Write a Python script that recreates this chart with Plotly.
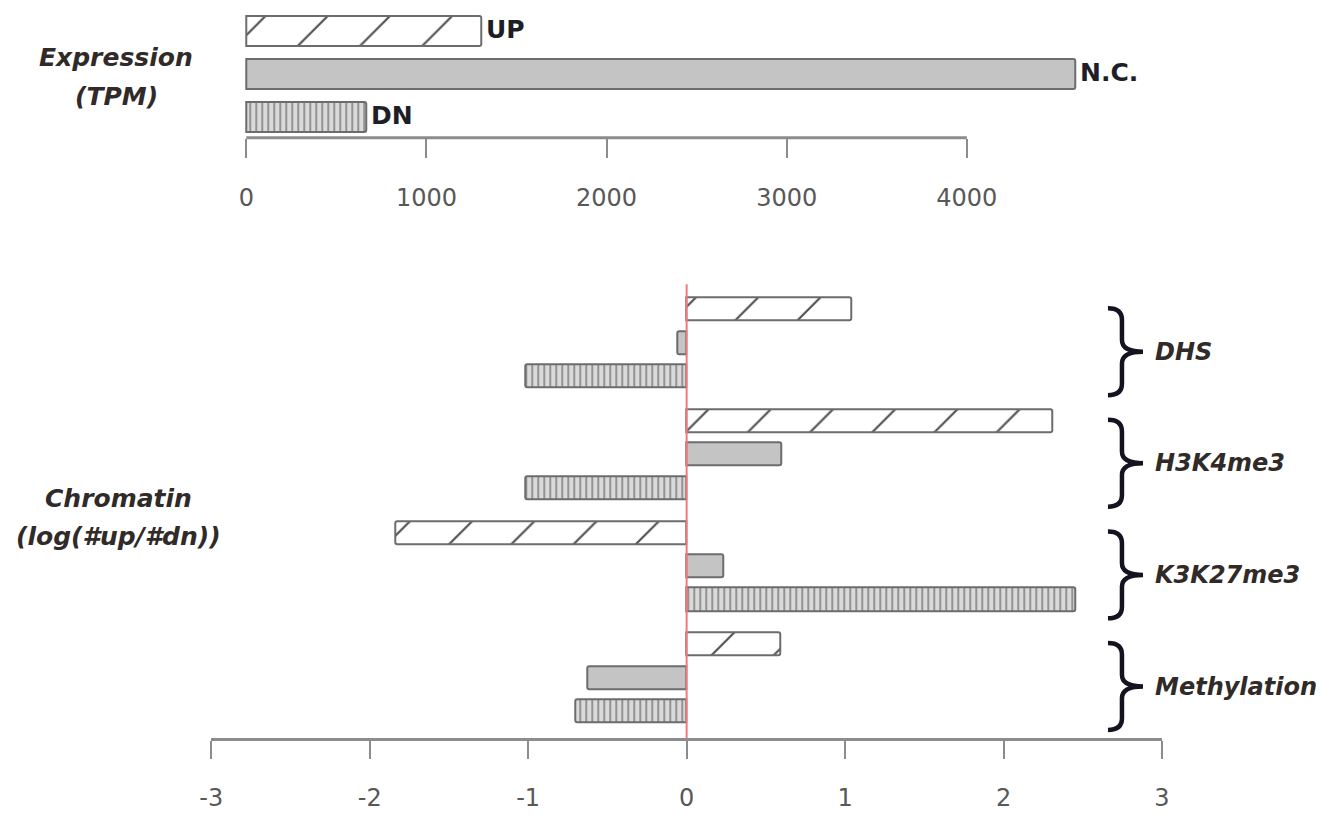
import plotly.graph_objects as go

# ---------------- data ----------------
expr_labels = ["UP", "N.C.", "DN"]
expr_values = [1305, 4600, 667]
expr_ticks = [0, 1000, 2000, 3000, 4000]

chrom_groups = ["DHS", "H3K4me3", "K3K27me3", "Methylation"]
chrom_up = [1.04, 2.31, -1.84, 0.59]
chrom_nc = [-0.06, 0.60, 0.23, -0.63]
chrom_dn = [-1.02, -1.02, 2.45, -0.70]
chrom_ticks = [-3, -2, -1, 0, 1, 2, 3]

# ---------------- styles ----------------
PAGE_W, PAGE_H = 1327, 820
OFF = 8  # default body margin of the html page
FW, FH = PAGE_W - 2 * OFF, PAGE_H - 2 * OFF
# empirical horizontal calibration of the rendered page
CAL_A, CAL_S = 12.0, 0.984
edge = "#6c6c6c"
txt = "#302a28"
tickc = "#585858"
font_fam = "DejaVu Sans, Verdana, sans-serif"

styles = {
    "UP": dict(color="white", pattern=dict(shape="/", size=44, solidity=0.05,
                                              fgcolor="#505050", bgcolor="white", fillmode="replace")),
    "N.C.": dict(color="#c4c4c4"),
    "DN": dict(color="#d2d2d2", pattern=dict(shape="|", size=6, solidity=0.3,
                                              fgcolor="#8a8a8a", bgcolor="#dadada", fillmode="replace")),
}


def px_x(p):
    pc = (p - CAL_A) / CAL_S
    return (pc - OFF) / FW


def px_y(p):
    return 1 - (p - OFF) / FH


fig = go.Figure()

# ---------------- top panel ----------------
for i, (lab, val) in enumerate(zip(expr_labels, expr_values)):
    st = styles[lab]
    fig.add_trace(go.Bar(
        x=[val], y=[i], orientation="h", width=0.70,
        marker=dict(line=dict(color=edge, width=2), cornerradius=2, **st),
        xaxis="x", yaxis="y", showlegend=False, hoverinfo="skip",
    ))
    fig.add_annotation(x=val, y=i, xref="x", yref="y", text="<b>%s</b>" % lab,
                       showarrow=False, xanchor="left", xshift=3, yshift=1,
                       font=dict(family=font_fam, size=25, color="#1e1e28"))

# axis line for 0..4000 only
fig.add_shape(type="line", xref="x", yref="y domain", x0=expr_ticks[0], x1=expr_ticks[-1],
              y0=0, y1=0, line=dict(color="#8c8c8c", width=3))

# ---------------- bottom panel ----------------
step_group = 3.34
for g, name in enumerate(chrom_groups):
    base = g * step_group
    for i, (lab, arr) in enumerate(zip(expr_labels, [chrom_up, chrom_nc, chrom_dn])):
        st = styles[lab]
        fig.add_trace(go.Bar(
            x=[arr[g]], y=[base + i], orientation="h", width=0.69,
            marker=dict(line=dict(color=edge, width=2), cornerradius=2, **st),
            xaxis="x2", yaxis="y2", showlegend=False, hoverinfo="skip",
        ))
    # brace
    c = base + 1 + 0.27
    hh = 1.30
    xl, xm, xt = px_x(1107), px_x(1121), px_x(1142)
    r = 0.35
    path = (f"M {xl},{c-hh} Q {xm},{c-hh} {xm},{c-hh+r} "
            f"L {xm},{c-r} Q {xm},{c} {xt},{c} "
            f"Q {xm},{c} {xm},{c+r} L {xm},{c+hh-r} Q {xm},{c+hh} {xl},{c+hh}")
    fig.add_shape(type="path", xref="paper", yref="y2", path=path,
                  line=dict(color="#141420", width=4.5))
    fig.add_annotation(x=px_x(1152), y=c, xref="paper", yref="y2",
                       text="<b><i>%s</i></b>" % name, showarrow=False, xanchor="left",
                       font=dict(family=font_fam, size=24, color=txt))

# red zero line
fig.add_shape(type="line", xref="x2", yref="y2 domain", x0=0, x1=0, y0=0, y1=1,
              line=dict(color="#f07a7a", width=2), layer="above")

# left labels (one annotation per line for the wide line spacing)
left_lines = [("Expression", 116, 58), ("(TPM)", 116, 97),
              ("Chromatin", 118, 500), ("(log(#up/#dn))", 118, 538)]
for t, xx, yy in left_lines:
    fig.add_annotation(x=px_x(xx), y=px_y(yy), xref="paper", yref="paper",
                       text="<b><i>%s</i></b>" % t, showarrow=False,
                       xanchor="center", yanchor="middle",
                       font=dict(family=font_fam, size=25, color=txt))

# ---------------- axes ----------------
x_left, x_right = 211, 1161
dom_x = [px_x(x_left), px_x(x_right)]
top_zero, top_4000 = 246, 966
top_scale = (top_4000 - top_zero) / 4000.0  # px per unit
top_range = [-(top_zero - x_left) / top_scale, (x_right - top_zero) / top_scale]

top_axis_px = 138
bot_axis_px = 740
bot_top_px = 285

fig.update_layout(
    width=FW, height=FH,
    margin=dict(l=0, r=0, t=0, b=0),
    paper_bgcolor="white", plot_bgcolor="white",
    bargap=0,
    xaxis=dict(domain=dom_x, range=top_range, tickvals=expr_ticks,
               ticktext=[str(t) for t in expr_ticks], showgrid=False, zeroline=False,
               showline=False, ticks="outside", ticklen=19, tickwidth=2, tickcolor="#8c8c8c",
               ticklabelstandoff=20, anchor="y",
               tickfont=dict(family=font_fam, size=24, color=tickc)),
    yaxis=dict(domain=[px_y(top_axis_px), px_y(OFF)],
               range=[(top_axis_px - 31) / 43.0, -(31 - OFF) / 43.0],
               visible=False, anchor="x"),
    xaxis2=dict(domain=dom_x, range=[-3, 3], tickvals=chrom_ticks,
                ticktext=[str(t) for t in chrom_ticks], showgrid=False, zeroline=False,
                showline=True, linecolor="#8c8c8c", linewidth=3,
                ticks="outside", ticklen=18, tickwidth=2, tickcolor="#8c8c8c",
                ticklabelstandoff=18, anchor="y2",
                tickfont=dict(family=font_fam, size=24, color=tickc)),
    yaxis2=dict(domain=[px_y(bot_axis_px), px_y(bot_top_px)],
                range=[(bot_axis_px - 310) / 33.5, -(310 - bot_top_px) / 33.5],
                visible=False, anchor="x2"),
)

fig.write_html("out.html")
